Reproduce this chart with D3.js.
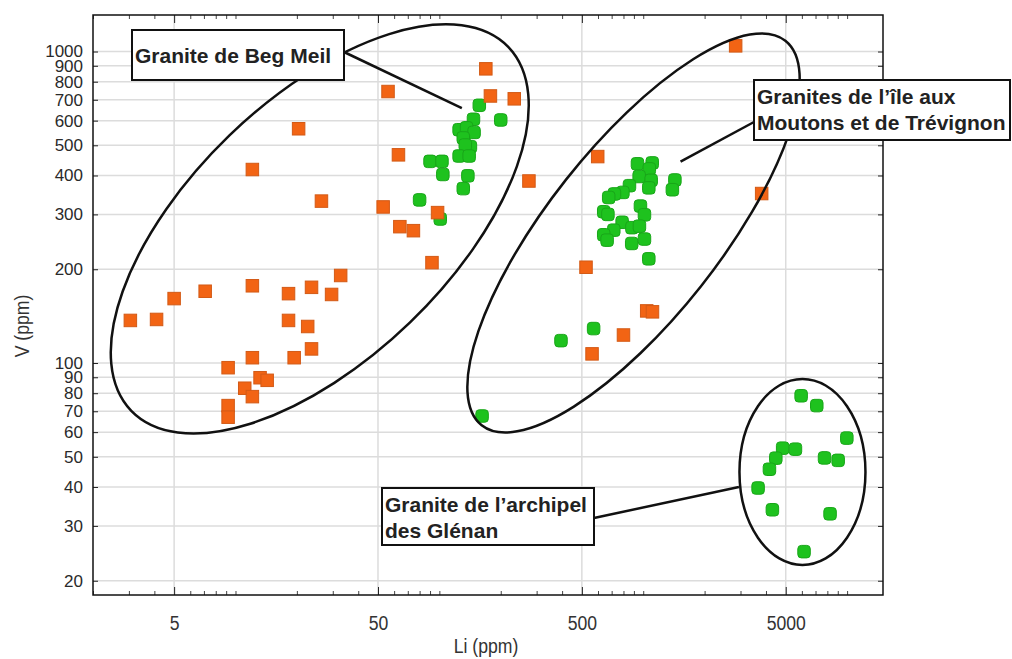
<!DOCTYPE html>
<html>
<head>
<meta charset="utf-8">
<script src="https://cdn.jsdelivr.net/npm/d3@7"></script>
<style>
  body { margin: 0; background: #fff; }
</style>
</head>
<body>
<script>
const W = 1012, H = 659;

// Li (ppm), V (ppm)
const orangeLi = [169, 56, 178, 233, 20.4, 63, 12.1, 275, 26.4, 53, 98, 64, 74.6, 92, 32.8,
  12.1, 23.6, 18.2, 29.6, 7.1, 5.0, 4.1, 3.05, 18.2, 22.6, 23.6, 19.4, 12.1, 9.2, 13.2,
  14.3, 11.1, 12.1, 9.2, 9.2, 2840, 598, 3810, 524, 1040, 1110, 800, 561];
const orangeV = [880, 744, 720, 705, 565, 466, 418, 384, 331, 317, 304, 274, 266, 210, 191,
  177, 175, 167, 166, 170, 161, 138, 137, 137, 131, 111, 104, 104, 96.6, 89.7,
  88, 83, 78, 73, 67, 1043, 460, 350, 203, 147, 146, 123, 107];

const greenLi = [157, 200, 147, 125, 136, 148, 131, 142, 134, 125, 140, 90, 103, 104, 138,
  131, 80, 101, 162,
  395, 571, 937, 1107, 1071, 955, 1094, 1065, 1430, 1390, 856, 795, 722, 677, 640, 671,
  969, 1014, 788, 717, 880, 958, 640, 665, 878, 1014, 1065,
  5950, 7100, 9970, 4830, 5580, 4470, 7750, 9040, 4160, 3660, 4300, 8250, 6150];
const greenV = [672, 603, 606, 561, 569, 550, 528, 495, 501, 462, 462, 444, 444, 403, 399,
  363, 334, 290, 67.6,
  118, 129, 436, 439, 420, 397, 386, 365, 387, 360, 371, 353, 349, 340, 306, 300,
  319, 299, 283, 267, 272, 275, 258, 248, 242, 250, 216,
  78.5, 73, 57.4, 53.3, 52.9, 49.5, 49.6, 48.7, 45.6, 39.7, 33.8, 32.8, 24.8];

const xTicks = [5, 50, 500, 5000];
const yTicks = [20, 30, 40, 50, 60, 70, 80, 90, 100, 200, 300, 400, 500, 600, 700, 800, 900, 1000];

// group outlines: centre (Li, V), radii in px, tilt in degrees
const groups = [
  { li: 25.9, v: 269.5, rx: 262, ry: 130, rot: -44 },
  { li: 896, v: 261.6, rx: 245, ry: 86, rot: -51.7 },
  { li: 6040, v: 44.7, rx: 63, ry: 93, rot: 0 }
];

const labels = [
  { lines: ["Granite de Beg Meil"], box: [132, 30, 212, 50], from: [344, 52], to: [128.9, 658] },
  { lines: ["Granites de l\u2019\u00eele aux", "Moutons et de Tr\u00e9vignon"], box: [754, 80, 256, 60], from: [754, 122], to: [1524, 443] },
  { lines: ["Granite de l\u2019archipel", "des Gl\u00e9nan"], box: [382, 488, 212, 57], from: [594, 518], to: [2948, 40] }
];

const pLeft = 93, pRight = 883, pTop = 15, pBottom = 595;

const x = d3.scaleLog().domain([2, 15000]).range([pLeft, pRight]);
const y = d3.scaleLog().domain([18, 1310]).range([pBottom, pTop]);

const svg = d3.select("body").append("svg")
  .attr("width", W)
  .attr("height", H);

// grid
svg.append("g").selectAll("line")
  .data(yTicks)
  .join("line")
  .attr("x1", pLeft).attr("x2", pRight)
  .attr("y1", d => y(d)).attr("y2", d => y(d))
  .attr("stroke", "#dcdcdc")
  .attr("stroke-width", 1.5);

svg.append("g").selectAll("line")
  .data(xTicks)
  .join("line")
  .attr("y1", pTop).attr("y2", pBottom)
  .attr("x1", d => x(d)).attr("x2", d => x(d))
  .attr("stroke", "#dcdcdc")
  .attr("stroke-width", 1.5);

// axes
const minorX = [];
[1, 10, 100, 1000, 10000].forEach(dec => {
  for (let k = 1; k < 10; k++) {
    const v = k * dec;
    if (v >= 2 && v <= 15000 && k !== 5) minorX.push(v);
  }
});

const narrow = "'Liberation Sans', Arial, sans-serif";

const bottomAxis = svg.append("g")
  .attr("transform", `translate(0,${pBottom})`)
  .call(d3.axisBottom(x).tickValues(xTicks).tickFormat(d3.format("d")).tickSizeInner(-8).tickSizeOuter(0).tickPadding(20));
bottomAxis.select(".domain").remove();
bottomAxis.selectAll("line").attr("stroke", "#222");
bottomAxis.selectAll("text")
  .attr("transform", "scale(0.84,1)")
  .attr("font-family", narrow)
  .attr("font-size", "21px")
  .attr("fill", "#333");

svg.append("g").attr("transform", `translate(0,${pBottom})`)
  .call(d3.axisBottom(x).tickValues(minorX).tickFormat("").tickSizeInner(-4).tickSizeOuter(0))
  .call(g => g.select(".domain").remove())
  .selectAll("line").attr("stroke", "#444");

svg.append("g").attr("transform", `translate(0,${pTop})`)
  .call(d3.axisTop(x).tickValues(xTicks).tickFormat("").tickSizeInner(-8).tickSizeOuter(0))
  .call(g => g.select(".domain").remove())
  .selectAll("line").attr("stroke", "#222");

svg.append("g").attr("transform", `translate(0,${pTop})`)
  .call(d3.axisTop(x).tickValues(minorX).tickFormat("").tickSizeInner(-4).tickSizeOuter(0))
  .call(g => g.select(".domain").remove())
  .selectAll("line").attr("stroke", "#444");

const leftAxis = svg.append("g")
  .attr("transform", `translate(${pLeft},0)`)
  .call(d3.axisLeft(y).tickValues(yTicks).tickFormat(d3.format("d")).tickSizeInner(-5).tickSizeOuter(0).tickPadding(10));
leftAxis.select(".domain").remove();
leftAxis.selectAll("line").attr("stroke", "#222");
leftAxis.selectAll("text")
  .attr("font-family", "'Liberation Sans', Arial, sans-serif")
  .attr("font-size", "17px")
  .attr("fill", "#2a2a2a");

svg.append("g").attr("transform", `translate(${pRight},0)`)
  .call(d3.axisRight(y).tickValues(yTicks).tickFormat("").tickSizeInner(-5).tickSizeOuter(0))
  .call(g => g.select(".domain").remove())
  .selectAll("line").attr("stroke", "#222");

// frame
svg.append("rect")
  .attr("x", pLeft).attr("y", pTop)
  .attr("width", pRight - pLeft).attr("height", pBottom - pTop)
  .attr("fill", "none")
  .attr("stroke", "#111")
  .attr("stroke-width", 1.5);

// axis titles
svg.append("text")
  .attr("transform", `translate(${(pLeft + pRight) / 2 - 2},653) scale(0.84,1)`)
  .attr("text-anchor", "middle")
  .attr("font-family", narrow)
  .attr("font-size", "21px")
  .attr("fill", "#333")
  .text("Li (ppm)");

svg.append("text")
  .attr("transform", "translate(29,326) rotate(-90) scale(0.84,1)")
  .attr("text-anchor", "middle")
  .attr("font-family", narrow)
  .attr("font-size", "21px")
  .attr("fill", "#333")
  .text("V (ppm)");

// points
const plot = svg.append("g");
const sz = 12.5;

plot.selectAll(".green")
  .data(greenLi.map((d, i) => [d, greenV[i]]))
  .join("rect")
  .attr("class", "green")
  .attr("x", d => x(d[0]) - sz / 2)
  .attr("y", d => y(d[1]) - sz / 2)
  .attr("width", sz).attr("height", sz)
  .attr("rx", 3.5).attr("ry", 3.5)
  .attr("fill", "#1ec21e")
  .attr("stroke", "#19a619")
  .attr("stroke-width", 1);

plot.selectAll(".orange")
  .data(orangeLi.map((d, i) => [d, orangeV[i]]))
  .join("rect")
  .attr("class", "orange")
  .attr("x", d => x(d[0]) - sz / 2)
  .attr("y", d => y(d[1]) - sz / 2)
  .attr("width", sz).attr("height", sz)
  .attr("fill", "#f26414")
  .attr("stroke", "#d35a16")
  .attr("stroke-width", 1);

// group outlines
svg.append("g").selectAll("ellipse")
  .data(groups)
  .join("ellipse")
  .attr("transform", d => `translate(${x(d.li)},${y(d.v)}) rotate(${d.rot})`)
  .attr("rx", d => d.rx)
  .attr("ry", d => d.ry)
  .attr("fill", "none")
  .attr("stroke", "#111")
  .attr("stroke-width", 2.5);

// labels
labels.forEach(lab => {
  const g = svg.append("g");
  g.append("line")
    .attr("x1", lab.from[0]).attr("y1", lab.from[1])
    .attr("x2", x(lab.to[0])).attr("y2", y(lab.to[1]))
    .attr("stroke", "#111")
    .attr("stroke-width", 2.5);
  g.append("rect")
    .attr("x", lab.box[0]).attr("y", lab.box[1])
    .attr("width", lab.box[2]).attr("height", lab.box[3])
    .attr("fill", "#fff")
    .attr("stroke", "#111")
    .attr("stroke-width", 2);
  lab.lines.forEach((t, i) => {
    g.append("text")
      .attr("x", lab.box[0] + 3)
      .attr("y", lab.box[1] + (lab.lines.length === 1 ? 33 : 24 + i * 26))
      .attr("font-family", "'Liberation Sans', Arial, sans-serif")
      .attr("font-weight", "bold")
      .attr("font-size", "21px")
      .attr("fill", "#222")
      .text(t);
  });
});
</script>
</body>
</html>
